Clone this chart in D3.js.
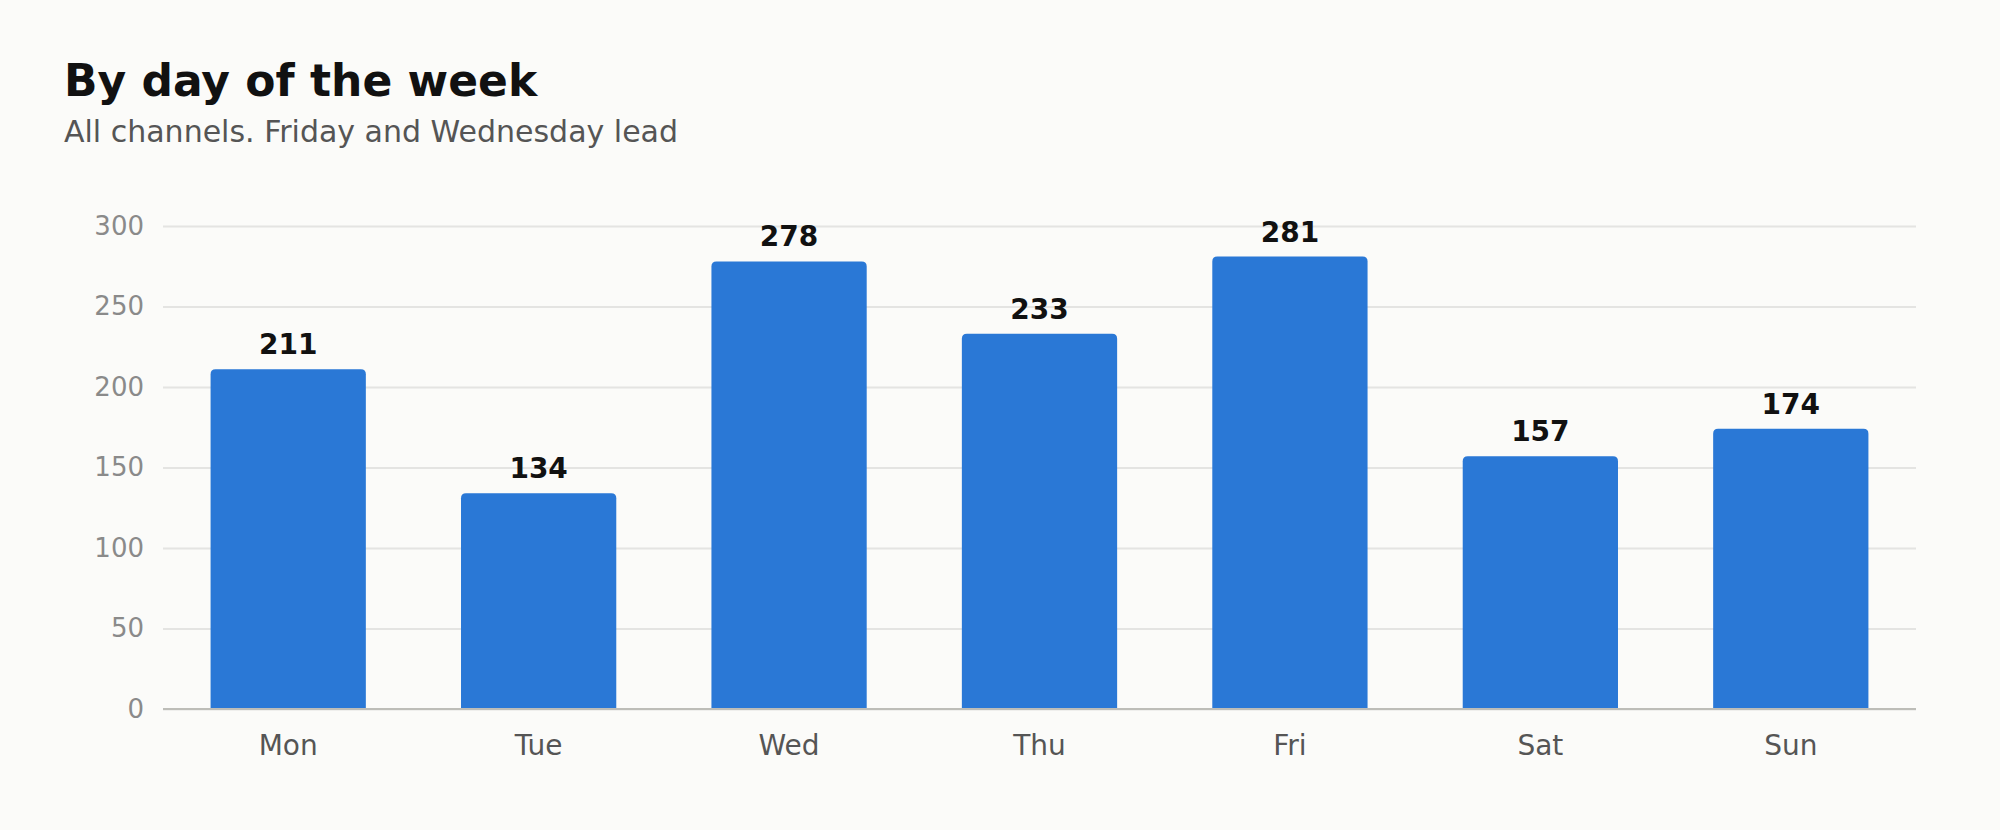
<!DOCTYPE html>
<html>
<head>
<meta charset="utf-8">
<script src="https://cdn.jsdelivr.net/npm/d3@7"></script>
<style>
  html, body { margin: 0; padding: 0; background: #fbfbf9; }
  svg { display: block; font-family: "DejaVu Sans", sans-serif; }
</style>
</head>
<body>
<div id="chart"></div>
<script>
// Weekly distribution, all channels
const days = ["Mon", "Tue", "Wed", "Thu", "Fri", "Sat", "Sun"];
const counts = [211, 134, 278, 233, 281, 157, 174];
const yTicks = [0, 50, 100, 150, 200, 250, 300];

const title = "By day of the week";
const subtitle = "All channels. Friday and Wednesday lead";

const w = 2000;
const h = 830;
const margin = { top: 226, right: 84, bottom: 121, left: 163 };

const svg = d3.select("#chart").append("svg")
  .attr("width", w)
  .attr("height", h)
  .attr("viewBox", `0 0 ${w} ${h}`);

svg.append("rect").attr("width", w).attr("height", h).attr("fill", "#fbfbf9");

svg.append("text")
  .attr("x", 64).attr("y", 96)
  .attr("font-size", 44).attr("font-weight", "bold").attr("fill", "#111")
  .text(title);

svg.append("text")
  .attr("x", 64).attr("y", 142)
  .attr("font-size", 30).attr("fill", "#555")
  .text(subtitle);

const x = d3.scaleBand()
  .domain(days)
  .range([margin.left, w - margin.right])
  .paddingInner(0.38)
  .paddingOuter(0.19);

const y = d3.scaleLinear()
  .domain([0, 300])
  .range([h - margin.bottom, margin.top]);

// gridlines + y labels
svg.append("g")
  .attr("transform", `translate(${margin.left}, 0)`)
  .call(d3.axisLeft(y).tickValues(yTicks).tickSize(-(w - margin.left - margin.right)).tickPadding(19))
  .call((g) => g.select(".domain").remove())
  .call((g) => g.selectAll(".tick line").attr("stroke", "#e4e4e2").attr("stroke-width", 2))
  .call((g) => g.selectAll(".tick text")
    .attr("fill", "#8a8a8a").attr("font-size", 26).attr("font-family", "DejaVu Sans"));

// bars with rounded tops
const r = 5;
const barPath = (d, i) => {
  const x0 = x(days[i]);
  const x1 = x0 + x.bandwidth();
  const y0 = y(0);
  const y1 = y(d);
  return `M${x0},${y0}V${y1 + r}Q${x0},${y1} ${x0 + r},${y1}H${x1 - r}Q${x1},${y1} ${x1},${y1 + r}V${y0}Z`;
};

svg.append("g")
  .selectAll("path")
  .data(counts)
  .join("path")
  .attr("d", barPath)
  .attr("fill", "#2a78d6");

// baseline
svg.append("line")
  .attr("x1", margin.left).attr("x2", w - margin.right)
  .attr("y1", y(0)).attr("y2", y(0))
  .attr("stroke", "#bdbdb8").attr("stroke-width", 2);

// value labels
svg.append("g")
  .selectAll("text")
  .data(counts)
  .join("text")
  .attr("x", (d, i) => x(days[i]) + x.bandwidth() / 2)
  .attr("y", (d) => y(d) - 15)
  .attr("text-anchor", "middle")
  .attr("font-size", 28).attr("font-weight", "bold").attr("fill", "#111")
  .text((d) => d);

// x axis labels
svg.append("g")
  .attr("transform", `translate(0, ${y(0)})`)
  .call(d3.axisBottom(x).tickSize(0).tickPadding(26))
  .call((g) => g.select(".domain").remove())
  .call((g) => g.selectAll(".tick text")
    .attr("fill", "#555").attr("font-size", 28).attr("font-family", "DejaVu Sans"));
</script>
</body>
</html>
